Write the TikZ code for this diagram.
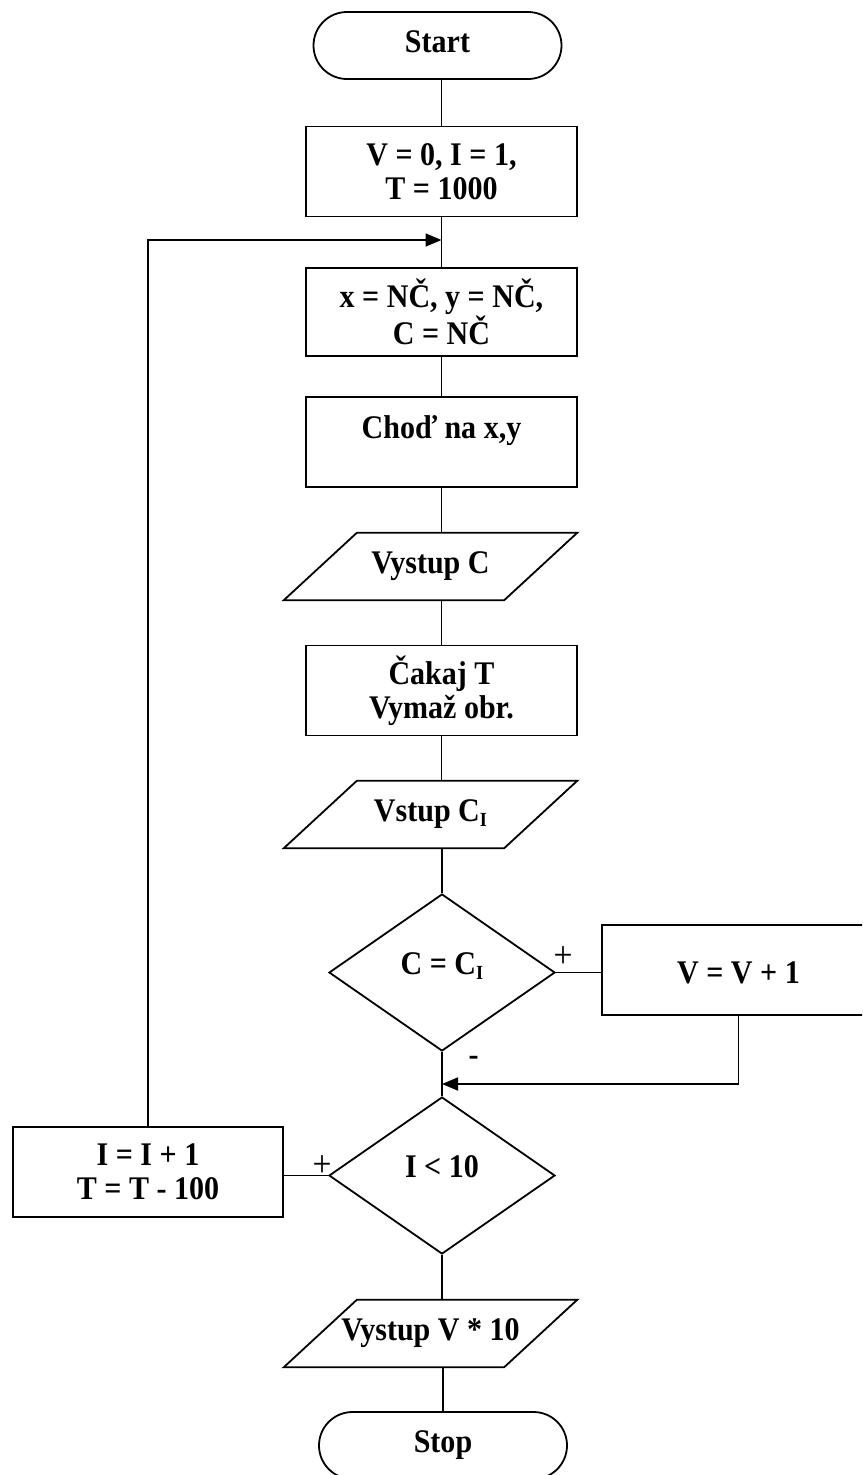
\documentclass[tikz,border=0pt]{standalone}
\usepackage{fontspec}
\setmainfont{Liberation Serif}[FakeStretch=0.91]
\usetikzlibrary{shapes.geometric,shapes.misc,arrows.meta}

% subscript capital I as used in C_I
\newcommand\subI{\raisebox{-5pt}{\fontsize{20}{20}\selectfont I}}

\begin{document}
\begin{tikzpicture}[x=1pt,y=-1pt,
  base/.style={draw, line width=1.8pt, font=\fontsize{33}{33.5}\selectfont\bfseries,
    align=center, inner sep=0pt},
  proc/.style={base, rectangle, minimum width=271pt, minimum height=90pt},
  term/.style={base, rounded rectangle, minimum width=248pt, minimum height=67pt,
    text height=22pt, text depth=9pt},
  decis/.style={base, diamond, minimum width=226pt, minimum height=157pt,
    text height=25pt, text depth=22pt},
  io/.style={font=\fontsize{33}{33.5}\selectfont\bfseries, inner sep=0pt,
    minimum width=293pt, minimum height=67pt},
  link/.style={line width=1.8pt},
  arr/.style={link, -{Triangle[length=16pt,width=13pt]}},
  sign/.style={font=\fontsize{37}{37}\selectfont, inner sep=0pt}]

\useasboundingbox (0,0) rectangle (862,1475);
\clip (0,0) rectangle (862,1475);

% main column
\node[term] (start) at (437.5,45.5) {Start};
\node[proc] (init) at (441.5,171.5) {V = 0, I = 1,\\T = 1000};
\node[proc, minimum height=88pt] (rnd) at (441.5,312) {x = NČ, y = NČ,\\C = NČ};
\node[proc, text height=22pt, text depth=30pt] (go) at (441.5,442) {Choď na x,y};
\node[io] (outc) at (430.5,566.5) {Vystup C};
\node[proc] (wait) at (441.5,690.5) {Čakaj T\\Vymaž obr.};
\node[io] (inc) at (430.5,814.5) {Vstup C\subI};
\node[decis] (eq) at (442,972.5) {C = C\subI};
\node[proc, minimum width=273pt, text height=26pt, text depth=0pt] (inc1) at (738.5,970) {V = V + 1};
\node[decis] (lt) at (442,1175.5) {I < 10};
\node[proc, minimum width=270pt] (next) at (148,1172) {I = I + 1\\T = T - 100};
\node[io] (outv) at (430.5,1333.5) {Vystup V * 10};
\node[term] (stop) at (443,1445.5) {Stop};

% input / output parallelograms
\foreach \n in {outc,inc,outv}
  \draw[link] (\n.south west) -- ([xshift=-73pt]\n.south east) -- (\n.north east)
    -- ([xshift=73pt]\n.north west) -- cycle;

% branch signs
\node[sign] (plus1) at (563,957) {+};
\node[sign] (plus2) at (322,1166) {+};
\node[sign, font=\fontsize{33}{33}\selectfont\bfseries] (minus) at (473.5,1060.5) {-};

% junction points on the main column
\coordinate (loopin) at (441.5,240);
\coordinate (merge) at (442,1084);

% connectors
\draw[link] (start.south -| init.north) -- (init.north);
\draw[link] (init.south) -- (rnd.north);
\draw[link] (rnd.south) -- (go.north);
\draw[link] (go.south) -- (go.south |- outc.north);
\draw[link] (outc.south -| wait.north) -- (wait.north);
\draw[link] (wait.south) -- (wait.south |- inc.north);
\draw[link] (inc.south -| eq.north) -- (eq.north);
\draw[link] (eq.east) -- (eq.east -| inc1.west);
\draw[link] (eq.south) -- (lt.north);
\draw[arr] (inc1.south) |- (merge);
\draw[link] (lt.west) -- (lt.west -| next.east);
\draw[arr] (next.north) |- (loopin);
\draw[link] (lt.south) -- (lt.south |- outv.north);
\draw[link] (outv.south -| stop.north) -- (stop.north);
\end{tikzpicture}
\end{document}
